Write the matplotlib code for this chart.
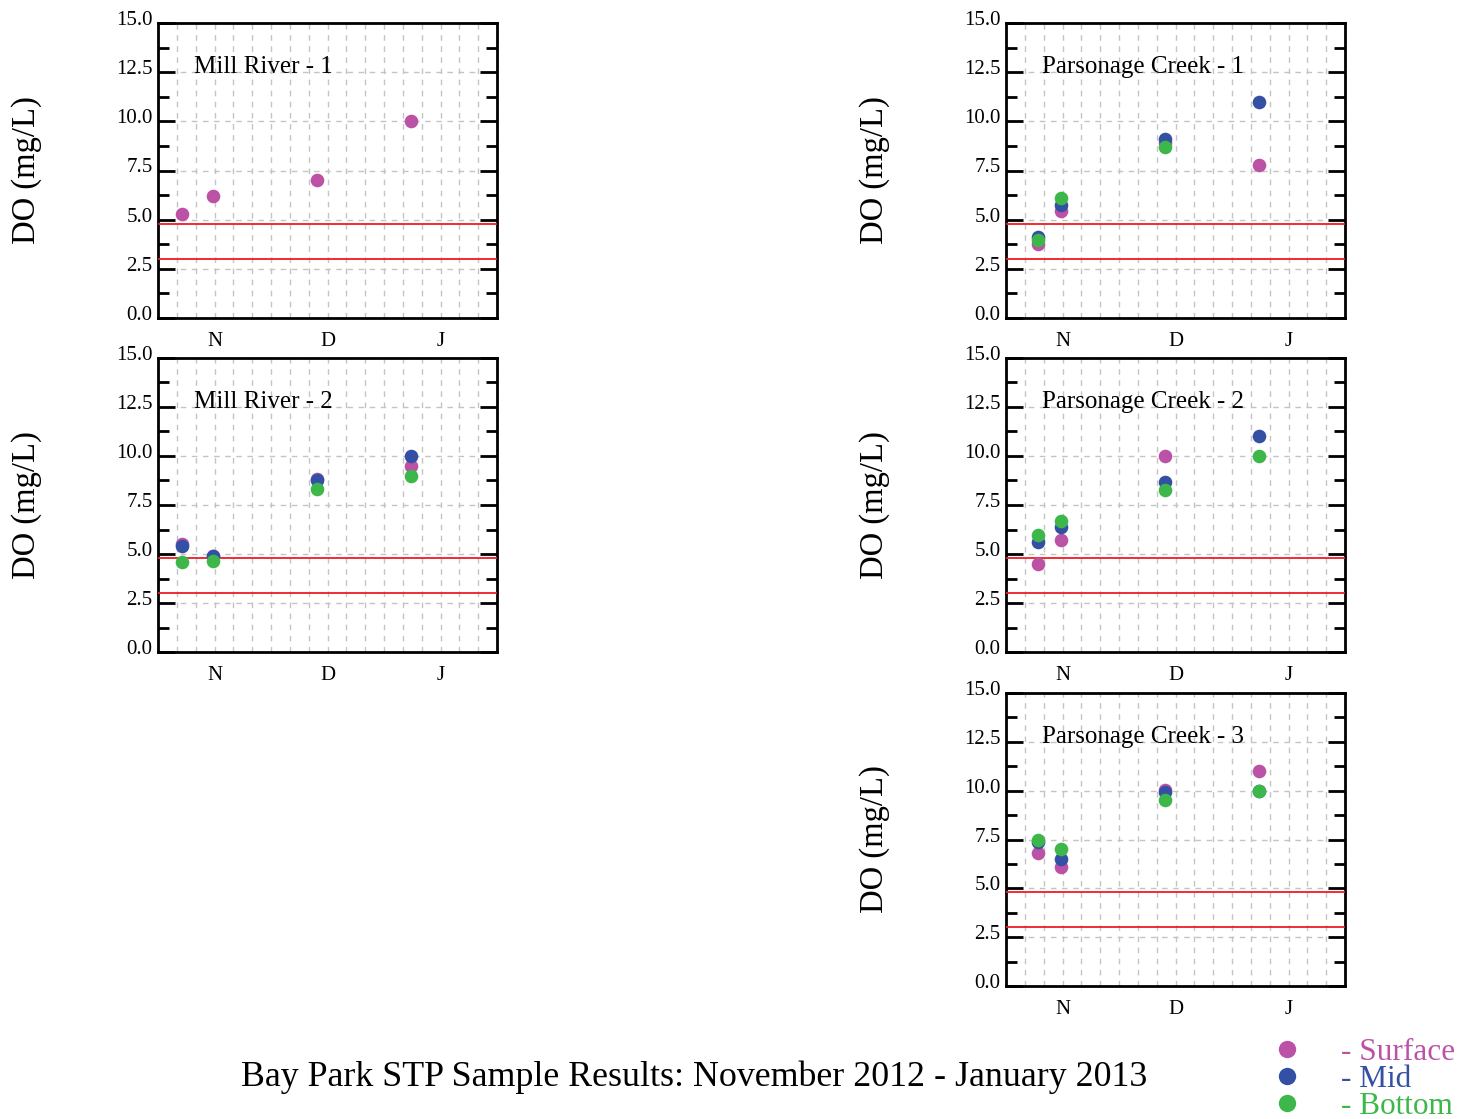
import numpy as np
import matplotlib
matplotlib.use("Agg")
import matplotlib.pyplot as plt
import matplotlib.transforms as mtransforms
from matplotlib.ticker import MultipleLocator, FixedLocator, FuncFormatter
from matplotlib.lines import Line2D

# ======================
# DATA
# ======================
months = ["N", "D", "J"]
month_days = [30, 31, 31]

dates_mill = [(0, 7), (0, 15), (1, 13), (2, 8)]
dates_pars = [(0, 9), (0, 15), (1, 13), (2, 8)]

mill1_surface = [5.3, 6.2, 7.0, 10.0]
mill1_mid = [np.nan, np.nan, np.nan, np.nan]
mill1_bottom = [np.nan, np.nan, np.nan, np.nan]

mill2_surface = [5.5, 4.9, 8.85, 9.5]
mill2_mid = [5.4, 4.9, 8.75, 10.0]
mill2_bottom = [4.6, 4.65, 8.3, 9.0]

pars1_surface = [3.75, 5.45, 8.9, 7.8]
pars1_mid = [4.1, 5.75, 9.1, 11.0]
pars1_bottom = [3.95, 6.1, 8.7, np.nan]

pars2_surface = [4.5, 5.7, 10.0, np.nan]
pars2_mid = [5.6, 6.4, 8.65, 11.0]
pars2_bottom = [5.95, 6.7, 8.25, 10.0]

pars3_surface = [6.8, 6.1, 10.05, 11.0]
pars3_mid = [7.35, 6.5, 9.95, 10.0]
pars3_bottom = [7.5, 7.0, 9.5, 10.0]

standards = [4.8, 3.0]

colors = {"Surface": "#BB52A6", "Mid": "#3350A4", "Bottom": "#3DB74A"}

# ======================
# LAYOUT
# ======================
plt.rcParams["font.family"] = ["Liberation Serif", "DejaVu Serif"]

W, H = 1463, 1119
fig = plt.figure(figsize=(W / 100, H / 100), dpi=100)


def date_to_x(dates):
    return [m + (d - 0.5) / month_days[m] for m, d in dates]


def month_label(v, p):
    k = v - 0.5
    if abs(k - round(k)) < 1e-6 and 0 <= round(k) < len(months):
        return months[int(round(k))]
    return ""


def make_panel(left_px, top_px, bottom_px, title, dates, surface, mid, bottom):
    ax = fig.add_axes([left_px / W, 1 - bottom_px / H, 339 / W, (bottom_px - top_px) / H])
    x = date_to_x(dates)
    for vals, name in [(surface, "Surface"), (mid, "Mid"), (bottom, "Bottom")]:
        ax.plot(x, vals, "o", color=colors[name], markersize=9.8, markeredgewidth=0, zorder=4)
    for s in standards:
        ax.axhline(s, color="#EE1C24", lw=1.3, zorder=3)

    ax.set_xlim(0, 3)
    ax.set_ylim(0, 15)

    # x: grid every 1/6 month, labels at month middles, ticks at month ends
    ax.xaxis.set_major_locator(MultipleLocator(1 / 6))
    ax.xaxis.set_major_formatter(FuncFormatter(month_label))
    ax.xaxis.set_minor_locator(FixedLocator([1, 2]))
    ax.tick_params(axis="x", which="major", length=0, pad=10, labelsize=15)
    ax.tick_params(axis="x", which="minor", direction="in", length=7, width=2, top=True, bottom=True)

    ax.yaxis.set_major_locator(MultipleLocator(2.5))
    ax.yaxis.set_minor_locator(MultipleLocator(1.25))
    ax.yaxis.set_major_formatter(FuncFormatter(lambda v, p: f"{v:.1f}"))
    ax.tick_params(axis="y", which="major", direction="in", length=12, width=2,
                   left=True, right=True, labelsize=15, pad=4)
    ax.tick_params(axis="y", which="minor", direction="in", length=8, width=2,
                   left=True, right=True)
    shift = mtransforms.ScaledTranslation(0, 5 / 100, fig.dpi_scale_trans)
    for lab in ax.get_yticklabels():
        lab.set_transform(lab.get_transform() + shift)

    ax.grid(True, which="major", color="#C4C4C4", lw=1.0, ls=(0, (4, 4)), zorder=0)
    for sp in ax.spines.values():
        sp.set_linewidth(2)
    ax.set_axisbelow(True)

    ax.text(0.105, 0.85, title, transform=ax.transAxes, fontsize=18, va="center", ha="left")

    fig.text((left_px - 131) / W, 1 - (top_px + bottom_px) / 2 / H, "DO (mg/L)",
             rotation=90, fontsize=23.5, ha="center", va="center")
    return ax


make_panel(158, 23, 318, "Mill River - 1", dates_mill, mill1_surface, mill1_mid, mill1_bottom)
make_panel(158, 358, 652, "Mill River - 2", dates_mill, mill2_surface, mill2_mid, mill2_bottom)
make_panel(1006, 23, 318, "Parsonage Creek - 1", dates_pars, pars1_surface, pars1_mid, pars1_bottom)
make_panel(1006, 358, 652, "Parsonage Creek - 2", dates_pars, pars2_surface, pars2_mid, pars2_bottom)
make_panel(1006, 693, 986, "Parsonage Creek - 3", dates_pars, pars3_surface, pars3_mid, pars3_bottom)

fig.text(694 / W, 1 - 1077 / H, "Bay Park STP Sample Results: November 2012 - January 2013",
         fontsize=25.8, ha="center", va="center")

# legend: coloured dots with coloured labels
for i, (name, c) in enumerate(colors.items()):
    y = 1 - (1049 + 27 * i) / H
    fig.add_artist(Line2D([1287 / W], [y], transform=fig.transFigure, ls="none", marker="o",
                          color=c, markersize=12.5, markeredgewidth=0))
    fig.text(1341 / W, y, f"- {name}", color=c, fontsize=22.5, ha="left", va="center_baseline")

fig.savefig("out.png", dpi=100)
